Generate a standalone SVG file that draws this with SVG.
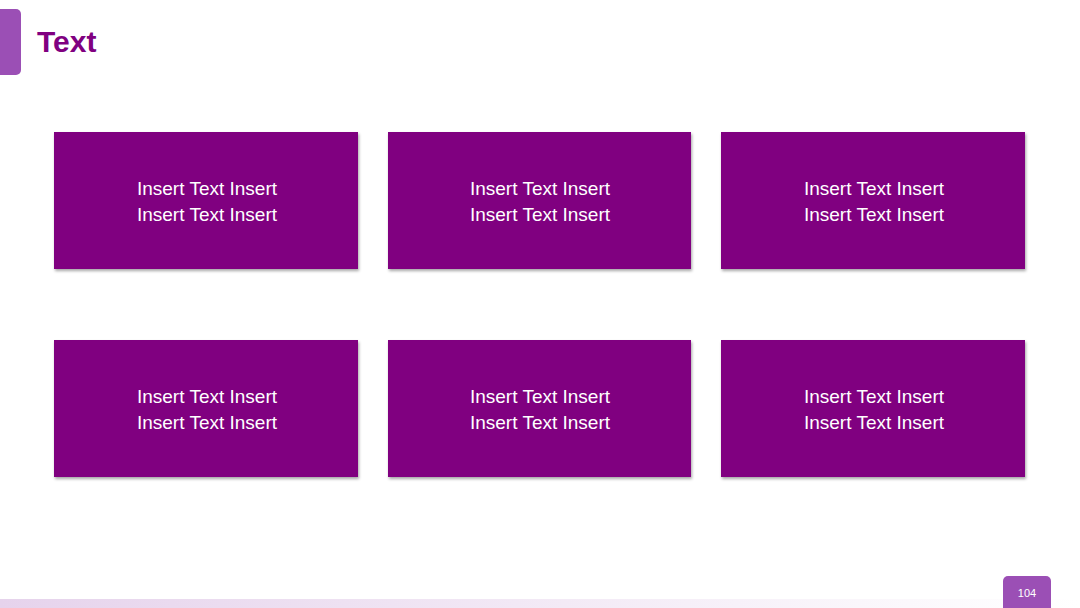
<svg xmlns="http://www.w3.org/2000/svg" width="1080" height="608" viewBox="0 0 1080 608">
<defs>
<style>
.box{fill:#800080;filter:url(#sh)}
.t{font-family:"Liberation Sans",Arial,sans-serif;font-size:19px;fill:#fff;text-anchor:middle}
</style>
<filter id="sh" x="-5%" y="-5%" width="110%" height="115%"><feDropShadow dx="1" dy="2" stdDeviation="1.5" flood-color="#000" flood-opacity="0.35"/></filter>
<linearGradient id="bar" x1="0" x2="1"><stop offset="0" stop-color="#e6d3ec"/><stop offset="1" stop-color="#fff"/></linearGradient>
</defs>
<rect width="1080" height="608" fill="#fff"/>
<rect x="-10" y="9" width="31" height="66" rx="5" fill="#9b4fb5"/>
<text x="37" y="52" font-family="'Liberation Sans',Arial,sans-serif" font-size="30" font-weight="bold" fill="#800080">Text</text>
<rect x="0" y="599" width="1080" height="9" fill="url(#bar)"/>
<rect x="1003" y="576" width="48" height="36" rx="5" fill="#9b4fb5"/>
<text x="1027" y="597" font-family="'Liberation Sans',Arial,sans-serif" font-size="11" fill="#fff" text-anchor="middle">104</text>
<g id="n1"><rect class="box" x="54" y="132" width="304" height="137"/><text class="t" x="207" y="195">Insert Text Insert</text><text class="t" x="207" y="221">Insert Text Insert</text></g>
<g id="n2"><rect class="box" x="388" y="132" width="303" height="137"/><text class="t" x="540" y="195">Insert Text Insert</text><text class="t" x="540" y="221">Insert Text Insert</text></g>
<g id="n3"><rect class="box" x="721" y="132" width="304" height="137"/><text class="t" x="874" y="195">Insert Text Insert</text><text class="t" x="874" y="221">Insert Text Insert</text></g>
<g id="n4"><rect class="box" x="54" y="340" width="304" height="137"/><text class="t" x="207" y="403">Insert Text Insert</text><text class="t" x="207" y="429">Insert Text Insert</text></g>
<g id="n5"><rect class="box" x="388" y="340" width="303" height="137"/><text class="t" x="540" y="403">Insert Text Insert</text><text class="t" x="540" y="429">Insert Text Insert</text></g>
<g id="n6"><rect class="box" x="721" y="340" width="304" height="137"/><text class="t" x="874" y="403">Insert Text Insert</text><text class="t" x="874" y="429">Insert Text Insert</text></g>
<g id="connectors"/>
</svg>
